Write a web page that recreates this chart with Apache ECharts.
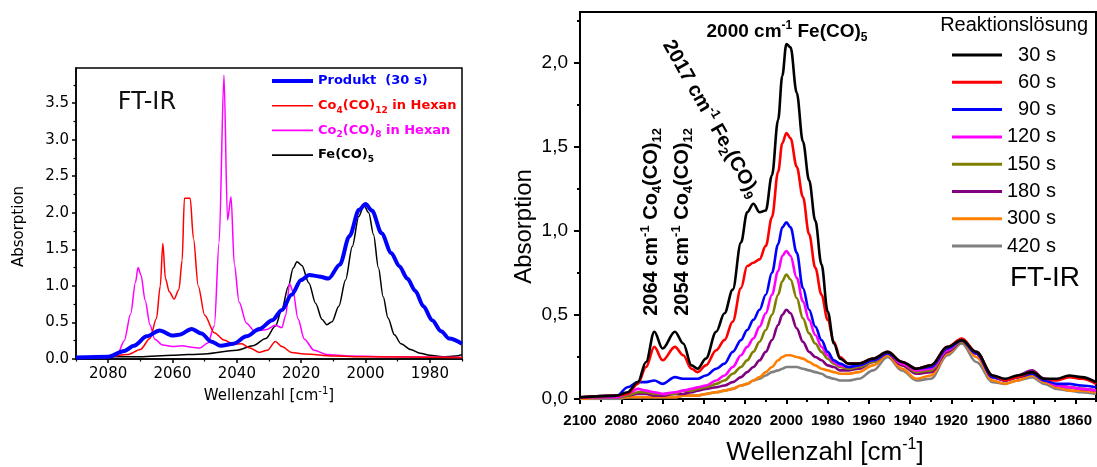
<!DOCTYPE html>
<html>
<head>
<meta charset="utf-8">
<script src="https://cdn.jsdelivr.net/npm/echarts@6/dist/echarts.min.js"></script>
<style>
  html, body { margin: 0; padding: 0; background: #ffffff; }
  #chart { width: 1097px; height: 467px; }
</style>
</head>
<body>
<div id="chart"></div>
<script>
// ---------- Left panel: reference spectra (wavenumber in cm-1, absorbance) ----------
const produktWn  = [2090, 2080, 2075, 2072, 2068, 2064, 2060, 2058, 2054, 2051, 2048, 2045, 2041, 2037, 2033, 2029, 2026, 2023, 2020, 2017.5, 2014.5, 2011.5, 2008, 2005, 2002, 2000, 1998, 1995, 1992, 1989.5, 1987, 1984.5, 1982, 1979.3, 1976.5, 1974, 1970];
const produktAbs = [0.02, 0.03, 0.11, 0.18, 0.31, 0.39, 0.32, 0.33, 0.41, 0.35, 0.24, 0.18, 0.21, 0.31, 0.41, 0.53, 0.67, 0.88, 1.08, 1.15, 1.13, 1.10, 1.29, 1.68, 2.04, 2.12, 2.03, 1.72, 1.45, 1.27, 1.10, 0.93, 0.72, 0.53, 0.38, 0.28, 0.21];

const co4Wn  = [2090, 2080, 2074, 2070, 2067, 2065, 2063.8, 2063, 2062.2, 2061, 2059.5, 2058, 2057, 2056.3, 2054.5, 2053.5, 2052, 2050, 2047, 2044, 2041, 2038.5, 2036, 2033, 2030.5, 2028, 2026, 2023, 2019, 2010, 2000, 1970];
const co4Abs = [0.03, 0.03, 0.06, 0.13, 0.28, 0.55, 1.00, 1.58, 1.10, 0.92, 0.82, 0.95, 1.35, 2.20, 2.20, 1.65, 1.00, 0.60, 0.36, 0.26, 0.20, 0.21, 0.15, 0.09, 0.12, 0.24, 0.17, 0.09, 0.07, 0.04, 0.03, 0.02];

const co2Wn  = [2090, 2080, 2077, 2075, 2073, 2071.5, 2070.7, 2069.8, 2068.5, 2067, 2065.5, 2063, 2060, 2057, 2054, 2051.5, 2049, 2047, 2045.5, 2044, 2042.9, 2041.8, 2040.8, 2039.3, 2037, 2034.5, 2031, 2028, 2026, 2024.8, 2023.6, 2022.5, 2021, 2019, 2016, 2012, 2005, 1990, 1970];
const co2Abs = [0.01, 0.02, 0.08, 0.25, 0.62, 1.05, 1.25, 1.15, 0.80, 0.47, 0.27, 0.19, 0.17, 0.18, 0.16, 0.15, 0.22, 0.45, 1.60, 3.88, 1.90, 2.22, 1.30, 0.78, 0.49, 0.38, 0.40, 0.46, 0.43, 0.60, 1.03, 0.92, 0.55, 0.27, 0.12, 0.06, 0.04, 0.03, 0.02];

const feWn  = [2090, 2070, 2060, 2050, 2040, 2035, 2031, 2028, 2026, 2024, 2022.5, 2021.3, 2019.8, 2017.6, 2015.5, 2013.5, 2012, 2010.4, 2008.3, 2006.2, 2004.1, 2002.1, 2000.5, 1999, 1997.5, 1996, 1994.5, 1993, 1991, 1989, 1986, 1983, 1980, 1976, 1972, 1970];
const feAbs = [0.03, 0.03, 0.05, 0.07, 0.12, 0.18, 0.28, 0.45, 0.68, 0.99, 1.24, 1.33, 1.28, 1.04, 0.76, 0.54, 0.47, 0.51, 0.72, 1.08, 1.54, 1.95, 2.10, 2.00, 1.70, 1.25, 0.85, 0.56, 0.33, 0.21, 0.13, 0.08, 0.05, 0.03, 0.04, 0.06];

const leftXLabels = [2080, 2060, 2040, 2020, 2000, 1980];
const leftXMinor  = [2090, 2070, 2050, 2030, 2010, 1990, 1970];
const leftYLabels = [0, 0.5, 1, 1.5, 2, 2.5, 3, 3.5];
const leftYMinor  = [0.25, 0.75, 1.25, 1.75, 2.25, 2.75, 3.25, 3.75];

// ---------- Right panel: reaction solution, sampled at shared wavenumbers ----------
const wavenumbers = [2100, 2082, 2077, 2072, 2068, 2064, 2060, 2054, 2050, 2046, 2043, 2039, 2034, 2030, 2026, 2022, 2019, 2016, 2013, 2010, 2007, 2004, 2002, 2000, 1998, 1995, 1992, 1989, 1986, 1983, 1980, 1977, 1974, 1970, 1965, 1958, 1951, 1944, 1937, 1930, 1922, 1915, 1908, 1900, 1894, 1888, 1881, 1875, 1869, 1863, 1857, 1850];
const abs30  = [0.01, 0.02, 0.04, 0.10, 0.22, 0.40, 0.30, 0.40, 0.33, 0.20, 0.18, 0.24, 0.40, 0.51, 0.65, 0.93, 1.11, 1.16, 1.11, 1.12, 1.33, 1.66, 1.92, 2.11, 2.09, 1.82, 1.53, 1.30, 1.06, 0.80, 0.52, 0.33, 0.24, 0.21, 0.21, 0.24, 0.28, 0.22, 0.18, 0.20, 0.31, 0.35, 0.28, 0.14, 0.12, 0.14, 0.16, 0.12, 0.12, 0.14, 0.13, 0.10];
const abs60  = [0.01, 0.02, 0.03, 0.09, 0.19, 0.31, 0.23, 0.31, 0.26, 0.18, 0.16, 0.20, 0.29, 0.35, 0.46, 0.66, 0.79, 0.81, 0.83, 0.91, 1.08, 1.35, 1.52, 1.58, 1.55, 1.38, 1.20, 0.98, 0.78, 0.62, 0.47, 0.34, 0.25, 0.21, 0.21, 0.24, 0.28, 0.22, 0.18, 0.20, 0.31, 0.36, 0.28, 0.14, 0.11, 0.13, 0.16, 0.12, 0.11, 0.13, 0.12, 0.09];
const abs90  = [0.01, 0.02, 0.07, 0.10, 0.10, 0.11, 0.09, 0.13, 0.12, 0.12, 0.12, 0.14, 0.18, 0.21, 0.28, 0.35, 0.41, 0.47, 0.53, 0.62, 0.75, 0.92, 1.02, 1.05, 1.02, 0.87, 0.66, 0.53, 0.43, 0.35, 0.28, 0.23, 0.21, 0.19, 0.20, 0.23, 0.27, 0.22, 0.18, 0.19, 0.30, 0.35, 0.27, 0.13, 0.11, 0.13, 0.15, 0.11, 0.09, 0.09, 0.08, 0.07];
const abs120 = [0.01, 0.01, 0.03, 0.06, 0.05, 0.04, 0.03, 0.04, 0.05, 0.06, 0.07, 0.08, 0.11, 0.14, 0.19, 0.26, 0.31, 0.36, 0.43, 0.51, 0.62, 0.76, 0.85, 0.88, 0.85, 0.72, 0.58, 0.47, 0.38, 0.31, 0.26, 0.22, 0.20, 0.19, 0.20, 0.23, 0.27, 0.21, 0.17, 0.18, 0.29, 0.35, 0.27, 0.13, 0.11, 0.13, 0.16, 0.11, 0.08, 0.07, 0.06, 0.05];
const abs150 = [0.01, 0.01, 0.02, 0.04, 0.04, 0.03, 0.03, 0.03, 0.05, 0.05, 0.06, 0.07, 0.09, 0.11, 0.15, 0.19, 0.23, 0.28, 0.34, 0.41, 0.50, 0.62, 0.70, 0.74, 0.71, 0.60, 0.48, 0.39, 0.33, 0.28, 0.24, 0.21, 0.19, 0.18, 0.19, 0.22, 0.27, 0.21, 0.16, 0.17, 0.29, 0.34, 0.27, 0.13, 0.11, 0.13, 0.16, 0.11, 0.08, 0.07, 0.06, 0.05];
const abs180 = [0.01, 0.01, 0.02, 0.03, 0.03, 0.02, 0.02, 0.03, 0.03, 0.04, 0.05, 0.06, 0.07, 0.08, 0.10, 0.13, 0.16, 0.19, 0.23, 0.28, 0.35, 0.44, 0.50, 0.53, 0.51, 0.42, 0.34, 0.28, 0.25, 0.23, 0.20, 0.19, 0.17, 0.17, 0.18, 0.22, 0.27, 0.20, 0.15, 0.16, 0.28, 0.34, 0.27, 0.13, 0.11, 0.14, 0.17, 0.12, 0.08, 0.07, 0.06, 0.05];
const abs300 = [0.00, 0.01, 0.01, 0.01, 0.01, 0.01, 0.01, 0.01, 0.02, 0.02, 0.02, 0.03, 0.04, 0.05, 0.06, 0.08, 0.09, 0.11, 0.13, 0.16, 0.19, 0.23, 0.25, 0.26, 0.26, 0.25, 0.24, 0.22, 0.20, 0.18, 0.17, 0.16, 0.15, 0.15, 0.16, 0.20, 0.26, 0.18, 0.12, 0.14, 0.27, 0.34, 0.25, 0.11, 0.09, 0.11, 0.14, 0.10, 0.07, 0.05, 0.05, 0.04];
const abs420 = [0.00, 0.00, 0.01, 0.01, 0.01, 0.01, 0.01, 0.01, 0.02, 0.02, 0.02, 0.03, 0.04, 0.05, 0.06, 0.08, 0.09, 0.11, 0.12, 0.14, 0.16, 0.17, 0.18, 0.19, 0.19, 0.19, 0.18, 0.17, 0.16, 0.15, 0.13, 0.12, 0.11, 0.11, 0.12, 0.17, 0.25, 0.17, 0.11, 0.12, 0.26, 0.33, 0.22, 0.10, 0.09, 0.11, 0.13, 0.09, 0.06, 0.05, 0.04, 0.03];

const timeLabels = ['30 s', '60 s', '90 s', '120 s', '150 s', '180 s', '300 s', '420 s'];
const timeSeries = [abs30, abs60, abs90, abs120, abs150, abs180, abs300, abs420];
const timeColors = ['#000000', '#ff0000', '#0000ff', '#ff00ff', '#808000', '#800080', '#ff8000', '#808080'];

const rightXLabels = [2100, 2080, 2060, 2040, 2020, 2000, 1980, 1960, 1940, 1920, 1900, 1880, 1860];
const rightXMinor  = [2090, 2070, 2050, 2030, 2010, 1990, 1970, 1950, 1930, 1910, 1890, 1870, 1850];
const rightYLabels = [0, 0.5, 1, 1.5, 2];
const rightYMinor  = [0.25, 0.75, 1.25, 1.75, 2.25];

// ---------- helpers ----------
const FONT = 'Liberation Sans, Arial, Helvetica, sans-serif';
const WIDE = 'DejaVu Sans, Verdana, sans-serif';   // wider face used in the left panel
const BLACK = '#000000';

function pairs(xs, ys) { return xs.map((x, i) => [x, ys[i]]); }

function mainAxis(o) {
  return {
    type: 'value', gridIndex: o.grid, position: o.position,
    min: o.min, max: o.max, inverse: !!o.inverse,
    axisLine: { show: true, onZero: false, lineStyle: { color: BLACK, width: o.lineWidth } },
    axisTick: { show: true, inside: false, length: o.tickLen, customValues: o.labels, lineStyle: { color: BLACK, width: o.lineWidth } },
    axisLabel: {
      show: true, customValues: o.labels, margin: o.margin, color: BLACK,
      fontFamily: o.font, fontSize: o.fontSize, fontWeight: o.fontWeight || 'normal',
      formatter: o.formatter
    },
    splitLine: { show: false }, minorTick: { show: false }, minorSplitLine: { show: false },
    name: o.name, nameLocation: 'middle', nameGap: o.nameGap,
    nameTextStyle: o.nameTextStyle
  };
}

function minorAxis(o) {
  return {
    type: 'value', gridIndex: o.grid, position: o.position,
    min: o.min, max: o.max, inverse: !!o.inverse,
    axisLine: { show: false, onZero: false },
    axisTick: { show: true, inside: false, length: o.tickLen, customValues: o.ticks, lineStyle: { color: BLACK, width: o.lineWidth } },
    axisLabel: { show: false },
    splitLine: { show: false }
  };
}

function richName(family, fontSize, lineHeight, supSize) {
  return {
    color: BLACK, fontFamily: family, fontSize: fontSize, lineHeight: lineHeight,
    rich: { sup: { fontFamily: family, fontSize: supSize, lineHeight: supSize, verticalAlign: 'top', color: BLACK } }
  };
}

// Rich-text pieces for chemical formulas (subscripts / superscripts)
function formulaRich(family, color, size, subSize, lh) {
  return {
    b: { color: color, fontFamily: family, fontWeight: 'bold', fontSize: size, lineHeight: lh },
    s: { color: color, fontFamily: family, fontWeight: 'bold', fontSize: subSize, lineHeight: subSize, verticalAlign: 'bottom' },
    p: { color: color, fontFamily: family, fontWeight: 'bold', fontSize: subSize, lineHeight: subSize, verticalAlign: 'top' }
  };
}

// ---------- left legend ----------
const refNames  = ['Produkt  (30 s)', 'Co4(CO)12 in Hexan', 'Co2(CO)8 in Hexan', 'Fe(CO)5'];
const refColors = ['#0000ff', '#ff0000', '#ff00ff', '#000000'];
const refKeys   = ['B', 'R', 'M', 'K'];
const refLabel = {
  'Produkt  (30 s)':    '{bB|Produkt  (30 s)}',
  'Co4(CO)12 in Hexan': '{bR|Co}{sR|4}{bR|(CO)}{sR|12}{bR| in Hexan}',
  'Co2(CO)8 in Hexan':  '{bM|Co}{sM|2}{bM|(CO)}{sM|8}{bM| in Hexan}',
  'Fe(CO)5':            '{bK|Fe(CO)}{sK|5}'
};
const leftLegendRich = {};
refKeys.forEach((k, i) => {
  const r = formulaRich(WIDE, refColors[i], 13, 9, 18);
  leftLegendRich['b' + k] = r.b;
  leftLegendRich['s' + k] = r.s;
});
// legend strokes: a filled bar inside a fixed 41 x 10 box (thick for the product)
const thickBar = 'path://M0,0M0,10M0,3L41,3L41,7L0,7Z';
const thinBar  = 'path://M0,0M0,10M0,4.2L41,4.2L41,5.8L0,5.8Z';

// ---------- series ----------
const leftSeries = [
  { name: 'Fe(CO)5', wn: feWn, abs: feAbs, color: '#000000', width: 1.5 },
  { name: 'Co2(CO)8 in Hexan', wn: co2Wn, abs: co2Abs, color: '#ff00ff', width: 1.5 },
  { name: 'Co4(CO)12 in Hexan', wn: co4Wn, abs: co4Abs, color: '#ff0000', width: 1.5 },
  { name: 'Produkt  (30 s)', wn: produktWn, abs: produktAbs, color: '#0000ff', width: 4 }
].map(s => ({
  type: 'line', name: s.name, xAxisIndex: 0, yAxisIndex: 0,
  data: pairs(s.wn, s.abs), symbol: 'none', showSymbol: false,
  smooth: 0.3, smoothMonotone: 'x', clip: true,
  lineStyle: { color: s.color, width: s.width }, itemStyle: { color: s.color },
  emphasis: { disabled: true }
}));

const rightSeries = timeLabels.map((label, i) => ({
  type: 'line', name: label, xAxisIndex: 2, yAxisIndex: 2,
  data: pairs(wavenumbers, timeSeries[i]), symbol: 'none', showSymbol: false,
  smooth: 0.35, smoothMonotone: 'x', clip: true,
  lineStyle: { color: timeColors[i], width: 2.6 }, itemStyle: { color: timeColors[i] },
  emphasis: { disabled: true }
})).reverse();   // earliest spectrum drawn last (on top)

// ---------- annotations (rich text) ----------
function annotation(text, x, y, rotation, size) {
  return {
    type: 'text', x: x, y: y, rotation: rotation, z: 100,
    style: {
      text: text, fill: BLACK, fontFamily: FONT, fontWeight: 'bold', fontSize: size,
      align: 'center', verticalAlign: 'middle', textAlign: 'center', textVerticalAlign: 'middle',
      rich: formulaRich(FONT, BLACK, size, Math.round(size * 0.65), size + 5)
    }
  };
}

const chart = echarts.init(document.getElementById('chart'), null, { renderer: 'canvas' });

chart.setOption({
  animation: false,
  backgroundColor: '#ffffff',
  textStyle: { fontFamily: FONT },
  grid: [
    { left: 76, top: 68, width: 386, height: 291, show: true, borderColor: BLACK, borderWidth: 1.5, backgroundColor: 'transparent', containLabel: false, outerBoundsMode: 'none' },
    { left: 580, top: 12, width: 516, height: 387, show: true, borderColor: BLACK, borderWidth: 2, backgroundColor: 'transparent', containLabel: false, outerBoundsMode: 'none' }
  ],
  xAxis: [
    mainAxis({ grid: 0, position: 'bottom', min: 1970, max: 2090, inverse: true, labels: leftXLabels,
      tickLen: 4, lineWidth: 1.5, margin: 8, font: WIDE, fontSize: 15,
      formatter: v => String(v),
      name: 'Wellenzahl [cm{sup|-1}]', nameGap: 27, nameTextStyle: richName(WIDE, 15, 19, 10) }),
    minorAxis({ grid: 0, position: 'bottom', min: 1970, max: 2090, inverse: true, ticks: leftXMinor, tickLen: 2.5, lineWidth: 1.2 }),
    mainAxis({ grid: 1, position: 'bottom', min: 1850, max: 2100, inverse: true, labels: rightXLabels,
      tickLen: 5, lineWidth: 2, margin: 14, font: FONT, fontSize: 15, fontWeight: 'bold',
      formatter: v => String(v),
      name: 'Wellenzahl [cm{sup|-1}]', nameGap: 38,
      nameTextStyle: Object.assign(richName(FONT, 26, 32, 16), { padding: [0, 26, 0, 0] }) }),
    minorAxis({ grid: 1, position: 'bottom', min: 1850, max: 2100, inverse: true, ticks: rightXMinor, tickLen: 3, lineWidth: 2 })
  ],
  yAxis: [
    mainAxis({ grid: 0, position: 'left', min: 0, max: 3.98, labels: leftYLabels,
      tickLen: 4, lineWidth: 1.5, margin: 7, font: WIDE, fontSize: 15,
      formatter: v => v.toFixed(1),
      name: 'Absorption', nameGap: 49,
      nameTextStyle: { color: BLACK, fontFamily: WIDE, fontSize: 15, padding: [0, 26, 0, 0] } }),
    minorAxis({ grid: 0, position: 'left', min: 0, max: 3.98, ticks: leftYMinor, tickLen: 2.5, lineWidth: 1.2 }),
    mainAxis({ grid: 1, position: 'left', min: 0, max: 2.3, labels: rightYLabels,
      tickLen: 6, lineWidth: 2, margin: 12, font: FONT, fontSize: 19,
      formatter: v => v.toFixed(1).replace('.', ','),
      name: 'Absorption', nameGap: 44,
      nameTextStyle: { color: BLACK, fontFamily: FONT, fontSize: 24, padding: [0, 42, 0, 0] } }),
    minorAxis({ grid: 1, position: 'left', min: 0, max: 2.3, ticks: rightYMinor, tickLen: 3, lineWidth: 2 })
  ],
  legend: [
    {
      orient: 'vertical', left: 272, top: 72, itemWidth: 41, itemHeight: 10, itemGap: 6.7,
      selectedMode: false, padding: 0,
      data: refNames.map((n, i) => ({ name: n, icon: i === 0 ? thickBar : thinBar, itemStyle: { color: refColors[i], borderWidth: 0 } })),
      formatter: name => refLabel[name],
      textStyle: { fontFamily: WIDE, fontSize: 13, fontWeight: 'bold', lineHeight: 18, rich: leftLegendRich }
    },
    {
      orient: 'vertical', left: 952, top: 45, itemWidth: 50, itemHeight: 3, itemGap: 7.3,
      selectedMode: false, padding: 0, icon: 'rect',
      data: timeLabels.map((n, i) => ({ name: n, itemStyle: { color: timeColors[i], borderWidth: 0 } })),
      formatter: name => (name.length < 5 ? '\u2007' + name : name),
      textStyle: { fontFamily: FONT, fontSize: 20, color: BLACK, lineHeight: 20 }
    }
  ],
  graphic: [
    { type: 'text', x: 147, y: 103, style: { text: 'FT-IR', fill: '#111111', fontFamily: WIDE, fontSize: 24, align: 'center', verticalAlign: 'middle', textAlign: 'center', textVerticalAlign: 'middle' } },
    { type: 'text', x: 1088, y: 25, style: { text: 'Reaktionslösung', fill: BLACK, fontFamily: FONT, fontSize: 20, align: 'right', verticalAlign: 'middle', textAlign: 'right', textVerticalAlign: 'middle' } },
    { type: 'text', x: 1080, y: 278, style: { text: 'FT-IR', fill: BLACK, fontFamily: FONT, fontSize: 28, align: 'right', verticalAlign: 'middle', textAlign: 'right', textVerticalAlign: 'middle' } },
    annotation('{b|2000 cm}{p|-1}{b| Fe(CO)}{s|5}', 787, 32, 0, 19),
    annotation('{b|2017 cm}{p|-1}{b| Fe}{s|2}{b|(CO)}{s|9}', 711, 119, -1.056, 20),
    annotation('{b|2064 cm}{p|-1}{b| Co}{s|4}{b|(CO)}{s|12}', 651, 222, Math.PI / 2, 20),
    annotation('{b|2054 cm}{p|-1}{b| Co}{s|4}{b|(CO)}{s|12}', 682, 222, Math.PI / 2, 20)
  ],
  series: leftSeries.concat(rightSeries)
});
</script>
</body>
</html>
